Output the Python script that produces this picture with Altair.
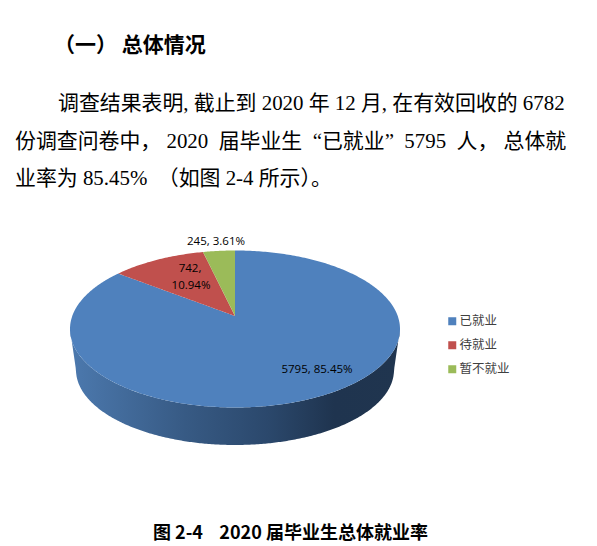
import numpy as np
import pandas as pd
import altair as alt

categories = ["已就业", "待就业", "暂不就业"]
counts = [5795, 742, 245]
percents = ["85.45%", "10.94%", "3.61%"]
colors = ["#4F81BD", "#C0504D", "#9BBB59"]

heading = "（一）\u00a0总体情况"
body_lines = [
    "调查结果表明,\u00a0截止到 2020 年 12 月,\u00a0在有效回收的 6782",
    "份调查问卷中， 2020\u00a0\u00a0届毕业生\u00a0\u00a0“已就业”\u00a0\u00a05795\u00a0\u00a0人，\u00a0总体就",
    "业率为 85.45%\u00a0\u00a0（如图 2-4 所示）。",
]
caption = "图 2-4\u00a0\u00a0\u00a0\u00a02020 届毕业生总体就业率"

FONT_CJK = "Noto Sans CJK SC"
FONT_BODY = "Liberation Serif, Noto Sans CJK SC"
FONT_LABEL = "Open Sans"

# pie geometry in the reference picture's pixel frame
cx, cy, rx, ry = 235.0, 329.0, 165.0, 78.5
apex_y = 316.0
bx, by, bry = 159.0, 370.0, 75.0
squash = 0.86  # perspective compression of the back of the pie

total = sum(counts)
back = [counts[2] / total, (counts[2] + counts[1]) / total]
t = [f * 2 * np.pi * squash for f in back]
e1 = (cx - rx * np.sin(t[0]), cy - ry * np.cos(t[0]))
e2 = (cx - rx * np.sin(t[1]), cy - ry * np.cos(t[1]))


def ell_up(x):
    return cy - ry * np.sqrt(np.clip(1 - ((x - cx) / rx) ** 2, 0, 1))


def ell_lo(x):
    return cy + ry * np.sqrt(np.clip(1 - ((x - cx) / rx) ** 2, 0, 1))


def radial(x, e):
    return e[1] + (apex_y - e[1]) * (x - e[0]) / (cx - e[0])


def xs(a, b, n=120):
    phi = np.linspace(np.arccos(np.clip((a - cx) / rx, -1, 1)), np.arccos(np.clip((b - cx) / rx, -1, 1)), n)
    return cx + rx * np.cos(phi)


rows = []
# blue slice
for x in xs(cx - rx, e2[0]):
    rows.append((categories[0], x, ell_up(x), ell_lo(x)))
for x in np.linspace(e2[0] + 0.01, cx, 40):
    rows.append((categories[0], x, radial(x, e2), ell_lo(x)))
for x in xs(cx + 0.01, cx + rx):
    rows.append((categories[0], x, ell_up(x), ell_lo(x)))
# red slice
for x in xs(e2[0], e1[0], 50):
    rows.append((categories[1], x, ell_up(x), radial(x, e2)))
for x in np.linspace(e1[0] + 0.01, cx, 20):
    rows.append((categories[1], x, radial(x, e1), radial(x, e2)))
# green slice
for x in xs(e1[0], cx, 30):
    rows.append((categories[2], x, ell_up(x), radial(x, e1)))
slices = pd.DataFrame(rows, columns=["cat", "x", "y", "y2"])

wall_rows = []
for x in xs(cx - rx, cx + rx, 300):
    d = abs(x - cx)
    if d >= bx:
        low = cy + (by - cy) * (rx - d) / (rx - bx)
    else:
        low = by + bry * np.sqrt(1 - (d / bx) ** 2)
    wall_rows.append((x, ell_lo(x), low))
wall_df = pd.DataFrame(wall_rows, columns=["x", "y", "y2"])

X = alt.X("x:Q", axis=None, scale=alt.Scale(domain=[8, 589], nice=False, zero=False))
Y = alt.Y("y:Q", axis=None, scale=alt.Scale(domain=[544, 8], nice=False, zero=False))

wall = alt.Chart(wall_df).mark_area(
    color=alt.Gradient(
        gradient="linear", x1=0, x2=1, y1=0, y2=0,
        stops=[
            alt.GradientStop(offset=0, color="#4C79AE"),
            alt.GradientStop(offset=0.35, color="#375A84"),
            alt.GradientStop(offset=0.6, color="#2B486C"),
            alt.GradientStop(offset=0.8, color="#1F344F"),
            alt.GradientStop(offset=1, color="#20354F"),
        ],
    )
).encode(x=X, y=Y, y2="y2:Q")

pie = alt.Chart(slices).mark_area(interpolate="linear").encode(
    x=X, y=Y, y2="y2:Q",
    color=alt.Color(
        "cat:N",
        scale=alt.Scale(domain=categories, range=colors),
        sort=categories,
        legend=alt.Legend(
            title=None, orient="none", legendX=438, legendY=307,
            symbolType="square", symbolSize=64, symbolStrokeWidth=0,
            labelFont=FONT_CJK, labelFontSize=12.5, labelColor="#404040",
            labelOffset=1, rowPadding=11, padding=0,
        ),
    ),
)


def text(rows, font, size, weight="normal", align="left", color="#000000"):
    df = pd.DataFrame(rows, columns=["t", "x", "y"])
    return alt.Chart(df).mark_text(
        font=font, fontSize=size, fontWeight=weight, align=align, baseline="middle", color=color
    ).encode(x=X, y=Y, text="t:N")


layers = [
    wall,
    pie,
    text([(heading, 54, 46)], FONT_CJK, 21, "bold"),
    text([(body_lines[0], 58, 104), (body_lines[1], 15, 142), (body_lines[2], 15, 179)], FONT_BODY, 20.9),
    text([(caption, 153, 534)], FONT_CJK, 18, "bold"),
    text(
        [
            (f"{counts[2]}, {percents[2]}", 216, 242),
            (f"{counts[1]},", 190, 269),
            (percents[1], 191, 286),
            (f"{counts[0]}, {percents[0]}", 317, 370),
        ],
        FONT_LABEL, 11.5, align="center",
    ),
]

chart = alt.layer(*layers).properties(
    width=581, height=536, padding=0, background="white",
    autosize=alt.AutoSizeParams(type="none"),
).configure_view(stroke=None)

chart.save("out.html", embed_options={"renderer": "svg", "actions": False})
